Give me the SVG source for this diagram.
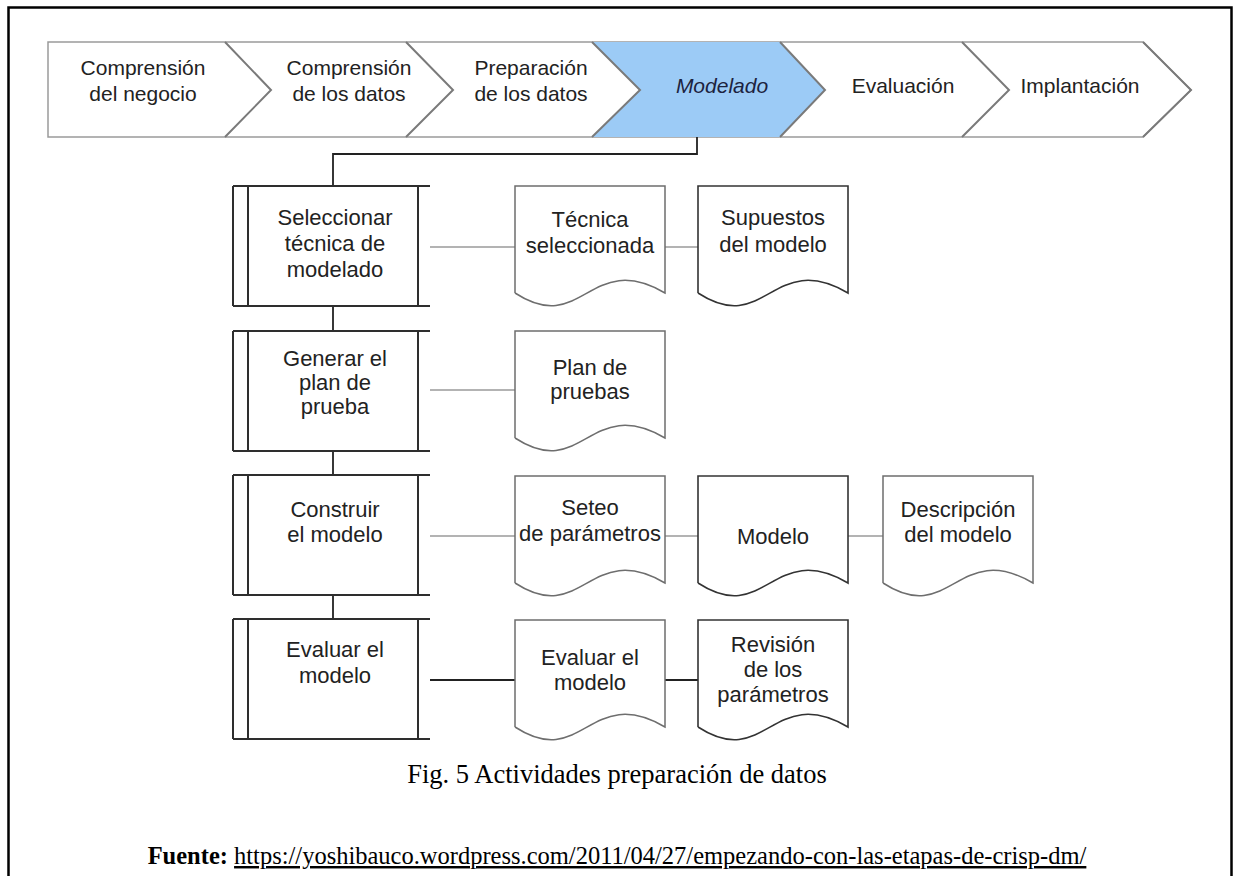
<svg xmlns="http://www.w3.org/2000/svg" xmlns:xlink="http://www.w3.org/1999/xlink" width="1235" height="876" viewBox="0 0 1235 876">
  <style>
    .lbl { font-family: "Liberation Sans", Arial, sans-serif; font-size: 21px; fill: #222; text-anchor: middle; }
    .big { font-size: 22px; }
    .ital { font-style: italic; fill: #1c2340; }
    .cap { font-family: "Liberation Serif", "Times New Roman", serif; fill: #000; text-anchor: middle; }
    .bar { fill: #fff; stroke: #9a9a9a; stroke-width: 1.5; }
    .sep { fill: none; stroke: #7a7a7a; stroke-width: 2; stroke-linejoin: miter; }
    .box { fill: none; stroke: #2e2e2e; stroke-width: 2; }
    .doc { fill: #fff; stroke: #6e6e6e; stroke-width: 1.5; }
    .doc-dark { fill: #fff; stroke: #333; stroke-width: 1.6; }
    .link { fill: none; stroke: #9a9a9a; stroke-width: 1.6; }
    .link-dark { fill: none; stroke: #222; stroke-width: 2; }
    .tree { fill: none; stroke: #222; stroke-width: 1.8; }
  </style>
  <defs>
    <!-- process box: double left rule, right rule, top/bottom rules running past the right edge -->
    <path id="proc" d="M0,0 V120 M15,0 V120 M185,0 V120 M0,0 H197 M0,120 H197"/>
    <!-- document shape with wavy bottom -->
    <path id="docShape" d="M0,107 V0 H150 V107 C75,63 67.5,151 0,107"/>
  </defs>

  <!-- page frame -->
  <rect x="8.5" y="7.5" width="1223" height="900" fill="#fff" stroke="#000" stroke-width="2.5"/>

  <!-- phase bar -->
  <g id="phases">
    <polygon class="bar" points="48,42 1143,42 1191,90 1143,137 48,137"/>
    <polygon points="592,42 780,42 825,90 780,137 592,137 640,90" fill="#9ccbf6"/>
    <polyline class="sep" points="225,42 271,90 225,137"/>
    <polyline class="sep" points="406,42 453,90 406,137"/>
    <polyline class="sep" points="592,42 640,90 592,137"/>
    <polyline class="sep" points="780,42 825,90 780,137"/>
    <polyline class="sep" points="962,42 1009,90 962,137"/>
    <polyline class="sep" points="1143,42 1191,90 1143,137"/>
    <text class="lbl" x="143" y="75">Comprensión</text>
    <text class="lbl" x="143" y="101">del negocio</text>
    <text class="lbl" x="349" y="75">Comprensión</text>
    <text class="lbl" x="349" y="101">de los datos</text>
    <text class="lbl" x="531" y="75">Preparación</text>
    <text class="lbl" x="531" y="101">de los datos</text>
    <text class="lbl ital" x="722" y="93">Modelado</text>
    <text class="lbl" x="903" y="93">Evaluación</text>
    <text class="lbl" x="1080" y="93">Implantación</text>
  </g>

  <!-- connectors -->
  <g id="connectors">
    <polyline class="tree" points="697,137 697,154 333,154 333,186"/>
    <line class="tree" x1="333" y1="306" x2="333" y2="331"/>
    <line class="tree" x1="333" y1="451" x2="333" y2="475"/>
    <line class="tree" x1="333" y1="595" x2="333" y2="619"/>
    <line class="link" x1="430" y1="247" x2="515" y2="247"/>
    <line class="link" x1="665" y1="247" x2="698" y2="247"/>
    <line class="link" x1="430" y1="390" x2="515" y2="390"/>
    <line class="link" x1="430" y1="536" x2="515" y2="536"/>
    <line class="link" x1="665" y1="536" x2="698" y2="536"/>
    <line class="link" x1="848" y1="536" x2="883" y2="536"/>
    <line class="link-dark" x1="430" y1="680" x2="515" y2="680"/>
    <line class="link-dark" x1="665" y1="680" x2="698" y2="680"/>
  </g>

  <!-- tasks -->
  <g id="task-seleccionar">
    <use href="#proc" class="box" x="233" y="186"/>
    <text class="lbl big" x="335" y="225">Seleccionar</text>
    <text class="lbl big" x="335" y="251">técnica de</text>
    <text class="lbl big" x="335" y="277">modelado</text>
  </g>
  <g id="task-generar">
    <use href="#proc" class="box" x="233" y="331"/>
    <text class="lbl big" x="335" y="366">Generar el</text>
    <text class="lbl big" x="335" y="390">plan de</text>
    <text class="lbl big" x="335" y="414">prueba</text>
  </g>
  <g id="task-construir">
    <use href="#proc" class="box" x="233" y="475"/>
    <text class="lbl big" x="335" y="517">Construir</text>
    <text class="lbl big" x="335" y="542">el modelo</text>
  </g>
  <g id="task-evaluar">
    <use href="#proc" class="box" x="233" y="619"/>
    <text class="lbl big" x="335" y="657">Evaluar el</text>
    <text class="lbl big" x="335" y="683">modelo</text>
  </g>

  <!-- outputs -->
  <g id="out-tecnica">
    <use href="#docShape" class="doc" x="515" y="186"/>
    <text class="lbl big" x="590" y="227">Técnica</text>
    <text class="lbl big" x="590" y="253">seleccionada</text>
  </g>
  <g id="out-supuestos">
    <use href="#docShape" class="doc-dark" x="698" y="186"/>
    <text class="lbl big" x="773" y="225">Supuestos</text>
    <text class="lbl big" x="773" y="252">del modelo</text>
  </g>
  <g id="out-plan">
    <use href="#docShape" class="doc" x="515" y="331"/>
    <text class="lbl big" x="590" y="375">Plan de</text>
    <text class="lbl big" x="590" y="399">pruebas</text>
  </g>
  <g id="out-seteo">
    <use href="#docShape" class="doc" x="515" y="476"/>
    <text class="lbl big" x="590" y="515">Seteo</text>
    <text class="lbl big" x="590" y="541">de parámetros</text>
  </g>
  <g id="out-modelo">
    <use href="#docShape" class="doc-dark" x="698" y="476"/>
    <text class="lbl big" x="773" y="544">Modelo</text>
  </g>
  <g id="out-descripcion">
    <use href="#docShape" class="doc" x="883" y="476"/>
    <text class="lbl big" x="958" y="517">Descripción</text>
    <text class="lbl big" x="958" y="542">del modelo</text>
  </g>
  <g id="out-evaluar">
    <use href="#docShape" class="doc" x="515" y="620"/>
    <text class="lbl big" x="590" y="665">Evaluar el</text>
    <text class="lbl big" x="590" y="690">modelo</text>
  </g>
  <g id="out-revision">
    <use href="#docShape" class="doc-dark" x="698" y="620"/>
    <text class="lbl big" x="773" y="652">Revisión</text>
    <text class="lbl big" x="773" y="677">de los</text>
    <text class="lbl big" x="773" y="702">parámetros</text>
  </g>

  <!-- caption and source -->
  <text class="cap" x="617" y="783" font-size="26.5">Fig. 5 Actividades preparación de datos</text>
  <text class="cap" x="617" y="864" font-size="24.5"><tspan font-weight="bold">Fuente:</tspan> <tspan text-decoration="underline">https://yoshibauco.wordpress.com/2011/04/27/empezando-con-las-etapas-de-crisp-dm/</tspan></text>
</svg>
